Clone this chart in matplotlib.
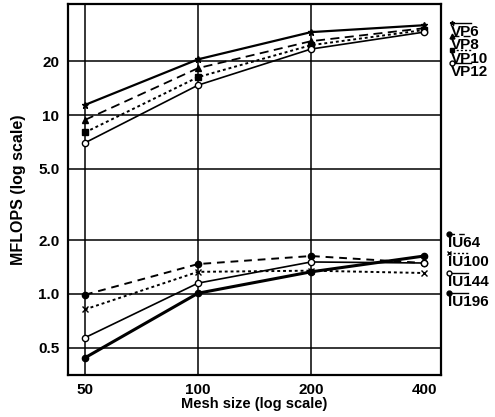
import matplotlib
matplotlib.use("Agg")
import matplotlib.pyplot as plt

plt.rcParams["font.family"] = ["Liberation Sans", "DejaVu Sans"]
plt.rcParams["font.weight"] = "bold"

# --- data ---
mesh = [50, 100, 200, 400]

vp_names = ["VP6", "VP8", "VP10", "VP12"]
vp_vals = {
    "VP6": [11.4, 20.5, 29.1, 31.8],
    "VP8": [9.4, 18.3, 25.9, 30.6],
    "VP10": [8.0, 16.3, 24.6, 29.9],
    "VP12": [7.0, 14.7, 23.4, 29.1],
}

iu_names = ["IU64", "IU100", "IU144", "IU196"]
iu_vals = {
    "IU64": [0.99, 1.47, 1.63, 1.49],
    "IU100": [0.82, 1.33, 1.35, 1.31],
    "IU144": [0.57, 1.15, 1.51, 1.49],
    "IU196": [0.44, 1.01, 1.33, 1.63],
}

yticks = [0.5, 1.0, 2.0, 5.0, 10, 20]
ytick_labels = ["0.5", "1.0", "2.0", "5.0", "10", "20"]
xtick_labels = ["50", "100", "200", "400"]

# style per series: linestyle, linewidth, marker, filled
styles = {
    "VP6": ("-", 1.6, "*", True),
    "VP8": ((0, (5, 3)), 1.3, "^", True),
    "VP10": ((0, (1.5, 1.5)), 1.4, "s", True),
    "VP12": ("-", 1.2, "o", False),
    "IU64": ((0, (4, 3)), 1.4, "o", True),
    "IU100": ((0, (1.5, 1.5)), 1.4, "x", True),
    "IU144": ("-", 1.2, "o", False),
    "IU196": ("-", 2.2, "o", True),
}

fig = plt.figure(figsize=(4.95, 4.17), dpi=100)
ax = fig.add_axes([0.137, 0.101, 0.754, 0.889])

for name in vp_names + iu_names:
    vals = vp_vals.get(name, iu_vals.get(name))
    ls, lw, mk, filled = styles[name]
    ax.plot(mesh, vals, color="black", ls=ls, lw=lw, marker=mk, ms=4.5,
            mfc="black" if filled else "white", mec="black", mew=1.0, zorder=3)

ax.set_xscale("log")
ax.set_yscale("log")
ax.set_xlim(45, 444)
ax.set_ylim(0.353, 41.7)
ax.set_xticks(mesh)
ax.set_xticklabels(xtick_labels)
ax.set_yticks(yticks)
ax.set_yticklabels(ytick_labels)
ax.minorticks_off()
ax.tick_params(length=0, labelsize=11, pad=6)

for y in yticks:
    ax.axhline(y, color="black", lw=1.1, zorder=1)
for x in mesh[:3]:
    ax.axvline(x, color="black", lw=1.1, zorder=1)
for s in ax.spines.values():
    s.set_linewidth(1.6)

ax.set_xlabel("Mesh size (log scale)", fontsize=10.5, fontweight="bold", labelpad=0)
ax.set_ylabel("MFLOPS (log scale)", fontsize=11.5, fontweight="bold", labelpad=9)

# --- hand-made legend at the right, line drawn above each label ---
ov = fig.add_axes([0, 0, 1, 1], facecolor="none")
ov.set_xlim(0, 495)
ov.set_ylim(417, 0)
ov.axis("off")

vp_text_y = [32, 45, 59, 72]
iu_text_y = [243, 262, 282, 302]
for names, ys, tx in [(vp_names, vp_text_y, 451), (iu_names, iu_text_y, 448)]:
    for name, ty in zip(names, ys):
        ls, lw, mk, filled = styles[name]
        ly = ty - 9
        ov.plot([tx + 1, tx + 20], [ly, ly], color="black", ls=ls, lw=1.0)
        ov.plot([tx + 1], [ly], marker=mk, ms=3.5, color="black",
                mfc="black" if filled else "white", mec="black")
        ov.text(tx, ty, name, fontsize=11, fontweight="bold",
                va="center", ha="left")

fig.savefig("out.png", dpi=100)
